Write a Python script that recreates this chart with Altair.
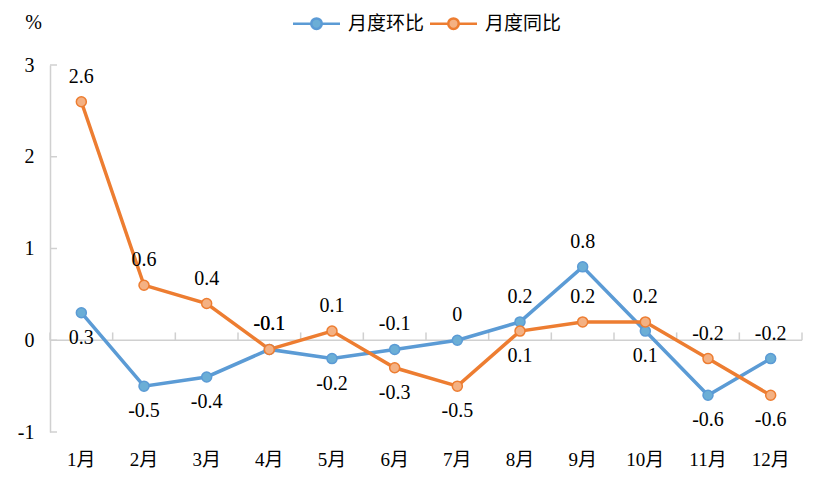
import altair as alt
import pandas as pd

months = ['1月', '2月', '3月', '4月', '5月', '6月', '7月', '8月', '9月', '10月', '11月', '12月']
series_names = ['月度环比', '月度同比']
mom = [0.3, -0.5, -0.4, -0.1, -0.2, -0.1, 0, 0.2, 0.8, 0.1, -0.6, -0.2]
yoy = [2.6, 0.6, 0.4, -0.1, 0.1, -0.3, -0.5, 0.1, 0.2, 0.2, -0.2, -0.6]
mom_pos = ['below', 'below', 'below', 'above', 'below', 'above', 'above', 'above', 'above', 'below', 'below', 'above']
yoy_pos = ['above', 'above', 'above', 'above', 'above', 'below', 'below', 'below', 'above', 'above', 'above', 'below']
line_colors = ['#5b9bd5', '#ed7d31']
point_fills = ['#6baed6', '#f4b183']
y_ticks = [-1, 0, 1, 2, 3]
x_tick_len = 0.085  # tick length in data units above the zero line

rows = []
for name, vals, poss in [(series_names[0], mom, mom_pos), (series_names[1], yoy, yoy_pos)]:
    for m, v, p in zip(months, vals, poss):
        rows.append(dict(month=m, series=name, value=v, pos=p, label=f"{v:g}"))
df = pd.DataFrame(rows)

SERIF = 'Liberation Serif, Noto Sans CJK SC'
GRAY = '#d0d0d0'

legend_path = ("M-4.7,0L-1.05,0M1.05,0L4.7,0"
               "M-1.05,0A1.05,1.05,0,1,1,1.05,0A1.05,1.05,0,1,1,-1.05,0Z")

def make_legend():
    return alt.Legend(title=None, orient='none', legendX=257, legendY=-51,
                      direction='horizontal', symbolType=legend_path, symbolSize=100,
                      symbolStrokeWidth=2.5, labelOffset=22, columnPadding=0,
                      labelFont='Noto Sans CJK SC', labelFontSize=19, labelColor='#000',
                      padding=0)

band = alt.Scale(type='band', paddingInner=0, paddingOuter=0)

def x_axis():
    return alt.Axis(title=None, labelAngle=0, labelAlign='center', bandPosition=0.5,
                    domain=False, ticks=False, grid=False,
                    labelPadding=18, labelFont=SERIF, labelFontSize=19,
                    labelColor='#000')

xenc = alt.X('month:N', sort=months, bandPosition=0.5, scale=band, axis=x_axis())
yscale = alt.Scale(domain=[-1, 3], nice=False, zero=False)

def y_axis():
    return alt.Axis(values=y_ticks, title='%', titleAngle=0, titleX=-17, titleY=-43,
                    titleAlign='center', titleBaseline='middle', titleFont=SERIF,
                    titleFontSize=20, titleFontWeight='normal', titleColor='#000',
                    domainColor=GRAY, domainWidth=1.5, ticks=False, grid=False,
                    labelPadding=16, labelFont=SERIF, labelFontSize=20,
                    labelColor='#000', labelExpr="'' + datum.value")

yenc = alt.Y('value:Q', scale=yscale, axis=y_axis())

color_enc = alt.Color('series:N', scale=alt.Scale(domain=series_names, range=line_colors),
                      sort=series_names, legend=make_legend())
fill_enc = alt.Fill('series:N', scale=alt.Scale(domain=series_names, range=point_fills),
                    sort=series_names, legend=make_legend())

base = alt.Chart(df)

# axis decorations: zero line with upward boundary ticks, inward y ticks
zero_df = pd.DataFrame({'value': [0]})
zero_line = alt.Chart(zero_df).mark_rule(color=GRAY, strokeWidth=1.5).encode(
    y=alt.Y('value:Q', scale=yscale, axis=y_axis()))

bdf = pd.DataFrame({'month': months, 'value': [0] * len(months),
                    'value2': [x_tick_len] * len(months)})
bdf_end = pd.DataFrame({'month': [months[-1]], 'value': [0], 'value2': [x_tick_len]})
xb0 = alt.X('month:N', sort=months, bandPosition=0, scale=band, axis=x_axis())
xb1 = alt.X('month:N', sort=months, bandPosition=1, scale=band, axis=x_axis())
ytick_enc = alt.Y('value:Q', scale=yscale, axis=y_axis())
xticks0 = alt.Chart(bdf).mark_rule(color=GRAY, strokeWidth=1.5).encode(
    x=xb0, y=ytick_enc, y2='value2:Q')
xticks1 = alt.Chart(bdf_end).mark_rule(color=GRAY, strokeWidth=1.5).encode(
    x=xb1, y=ytick_enc, y2='value2:Q')

tdf = pd.DataFrame({'value': y_ticks})
yticks = alt.Chart(tdf).mark_rule(color=GRAY, strokeWidth=1.5).encode(
    y=alt.Y('value:Q', scale=yscale, axis=y_axis()), x=alt.value(0), x2=alt.value(7))

lines = base.mark_line(strokeWidth=3.5).encode(x=xenc, y=yenc, color=color_enc)
points = base.mark_point(filled=False, size=100, strokeWidth=1.5, opacity=1).encode(
    x=xenc, y=yenc, color=color_enc, fill=fill_enc)

above = base.transform_filter(alt.datum.pos == 'above').mark_text(
    dy=-25, font='Liberation Serif', fontSize=20, color='#000', baseline='middle').encode(
    x=xenc, y=yenc, text='label:N')
below = base.transform_filter(alt.datum.pos == 'below').mark_text(
    dy=25, font='Liberation Serif', fontSize=20, color='#000', baseline='middle').encode(
    x=xenc, y=yenc, text='label:N')

chart = alt.layer(zero_line, xticks0, xticks1, yticks, lines, points, above, below).properties(
    width=752, height=367,
    padding={'left': 42, 'top': 57, 'right': 20, 'bottom': 50},
    autosize=alt.AutoSizeParams(type='none'),
    background='white'
).configure_view(stroke=None)

chart.save('out.html', embed_options={'renderer': 'svg', 'actions': False})
